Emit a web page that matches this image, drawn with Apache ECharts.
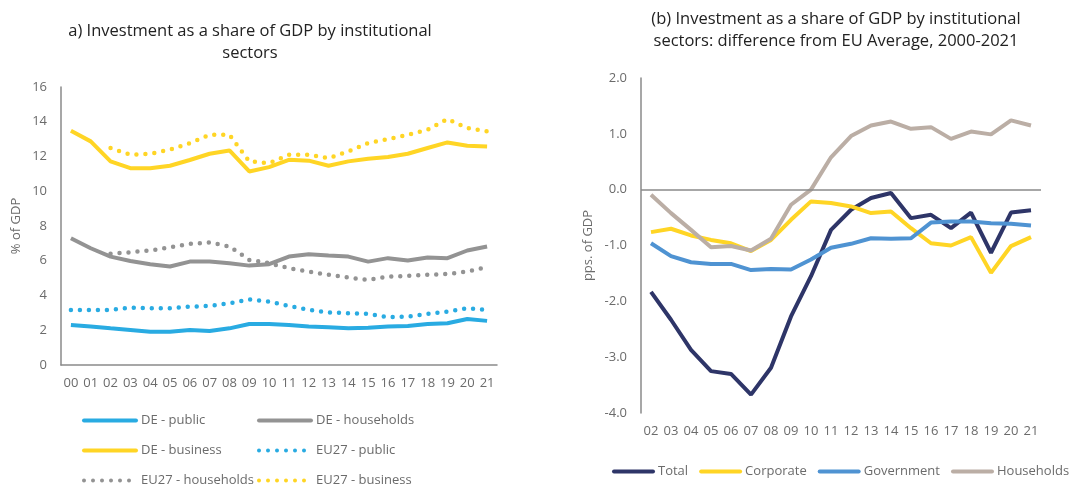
<!DOCTYPE html>
<html>
<head>
<meta charset="utf-8">
<script src="https://cdn.jsdelivr.net/npm/echarts@6/dist/echarts.min.js"></script>
<style>
    html, body { margin: 0; padding: 0; background: #fff; }
    #chart { width: 1070px; height: 488px; }
</style>
</head>
<body>
<div id="chart"></div>
<script>
// left panel: years 2000-2021
const yearsA = ['00','01','02','03','04','05','06','07','08','09','10','11','12','13','14','15','16','17','18','19','20','21'];
const dePublic = [2.3, 2.21, 2.11, 2.02, 1.92, 1.92, 2.02, 1.96, 2.11, 2.36, 2.36, 2.3, 2.21, 2.17, 2.11, 2.15, 2.21, 2.25, 2.36, 2.4, 2.65, 2.54];
const deHouseholds = [7.3, 6.72, 6.24, 5.99, 5.8, 5.67, 5.95, 5.95, 5.86, 5.72, 5.8, 6.24, 6.38, 6.3, 6.24, 5.95, 6.15, 6.01, 6.19, 6.15, 6.59, 6.82];
const deBusiness = [13.48, 12.87, 11.72, 11.33, 11.33, 11.47, 11.8, 12.16, 12.35, 11.14, 11.39, 11.81, 11.76, 11.47, 11.72, 11.87, 11.97, 12.16, 12.49, 12.81, 12.62, 12.58];
const euPublic = [3.17, 3.17, 3.17, 3.3, 3.27, 3.27, 3.36, 3.4, 3.55, 3.78, 3.65, 3.4, 3.17, 3.03, 2.98, 2.94, 2.75, 2.79, 2.94, 3.07, 3.27, 3.17];
const euHouseholds = [null, null, 6.4, 6.49, 6.59, 6.78, 6.97, 7.05, 6.82, 6.05, 5.86, 5.57, 5.38, 5.19, 5.03, 4.9, 5.09, 5.13, 5.19, 5.24, 5.38, 5.63];
const euBusiness = [null, null, 12.49, 12.1, 12.16, 12.39, 12.77, 13.25, 13.25, 11.72, 11.62, 12.1, 12.1, 11.9, 12.29, 12.77, 13.0, 13.25, 13.54, 14.16, 13.64, 13.45];

// right panel: years 2002-2021, difference from EU average
const yearsB = ['02','03','04','05','06','07','08','09','10','11','12','13','14','15','16','17','18','19','20','21'];
const total = [-1.83, -2.33, -2.87, -3.25, -3.3, -3.67, -3.19, -2.27, -1.55, -0.72, -0.36, -0.15, -0.06, -0.51, -0.45, -0.69, -0.41, -1.13, -0.41, -0.37];
const corporate = [-0.76, -0.7, -0.82, -0.9, -0.96, -1.1, -0.9, -0.54, -0.21, -0.24, -0.3, -0.42, -0.39, -0.69, -0.96, -1.0, -0.85, -1.49, -1.01, -0.85];
const government = [-0.96, -1.19, -1.3, -1.33, -1.33, -1.44, -1.42, -1.43, -1.25, -1.04, -0.97, -0.87, -0.88, -0.87, -0.59, -0.57, -0.57, -0.6, -0.61, -0.64];
const households = [-0.09, -0.42, -0.72, -1.03, -1.01, -1.09, -0.88, -0.27, 0.0, 0.58, 0.96, 1.15, 1.22, 1.09, 1.12, 0.91, 1.04, 0.99, 1.24, 1.15];

const font = 'Open Sans';
const grey = '#6b6b6b';
const axisGrey = '#8a8a8a';

let chart = echarts.init(document.getElementById('chart'));

function lineSeries(name, data, color, dotted, x, y) {
    return {
        name: name,
        type: 'line',
        xAxisIndex: x,
        yAxisIndex: y,
        data: data,
        symbol: 'none',
        smooth: false,
        connectNulls: false,
        lineStyle: dotted
            ? { color: color, width: 4.5, type: [0, 9], cap: 'round' }
            : { color: color, width: 4 },
        itemStyle: { color: color }
    };
}

const legendText = { color: grey, fontSize: 13, fontFamily: font };
const legendLine = { width: 4, cap: 'round' };

let option = {
    animation: false,
    textStyle: { fontFamily: font },
    title: [
        {
            text: 'a) Investment as a share of GDP by institutional\nsectors',
            left: 245,
            top: 15,
            textAlign: 'center',
            textStyle: { fontFamily: font, fontSize: 16.5, fontWeight: 'normal', color: '#222', lineHeight: 22 }
        },
        {
            text: '(b) Investment as a share of GDP by institutional\nsectors: difference from EU Average, 2000-2021',
            left: 831,
            top: 3,
            textAlign: 'center',
            textStyle: { fontFamily: font, fontSize: 16.5, fontWeight: 'normal', color: '#222', lineHeight: 22 }
        }
    ],
    legend: [
        {
            orient: 'vertical',
            left: 82,
            top: 414,
            height: 90,
            padding: 0,
            itemWidth: 52,
            itemHeight: 10,
            itemGap: 17,
            itemStyle: { opacity: 0 },
            lineStyle: legendLine,
            textStyle: legendText,
            data: ['DE - public', 'DE - business', 'EU27 - households']
        },
        {
            orient: 'vertical',
            left: 257,
            top: 414,
            height: 90,
            padding: 0,
            itemWidth: 52,
            itemHeight: 10,
            itemGap: 17,
            itemStyle: { opacity: 0 },
            lineStyle: legendLine,
            textStyle: legendText,
            data: ['DE - households', 'EU27 - public', 'EU27 - business']
        },
        {
            orient: 'horizontal',
            left: 612,
            top: 465,
            padding: 0,
            width: 458,
            itemWidth: 39,
            itemHeight: 10,
            itemGap: 11,
            itemStyle: { opacity: 0 },
            lineStyle: legendLine,
            textStyle: legendText,
            data: ['Total', 'Corporate', 'Government', 'Households']
        }
    ],
    grid: [
        { left: 61, top: 87, width: 436, height: 278 },
        { left: 641, top: 78, width: 400, height: 335 }
    ],
    xAxis: [
        {
            type: 'category',
            gridIndex: 0,
            data: yearsA,
            axisLine: { lineStyle: { color: axisGrey, width: 1.5 } },
            axisTick: { show: false },
            axisLabel: { color: grey, fontSize: 13, interval: 0, margin: 12 }
        },
        {
            type: 'category',
            gridIndex: 1,
            data: yearsB,
            axisLine: { show: false, onZero: false },
            axisTick: { show: false },
            axisLabel: { color: grey, fontSize: 13, interval: 0, margin: 12 }
        }
    ],
    yAxis: [
        {
            type: 'value',
            gridIndex: 0,
            min: 0,
            max: 16,
            interval: 2,
            name: '% of GDP',
            nameLocation: 'middle',
            nameGap: 38,
            nameTextStyle: { color: grey, fontSize: 13 },
            axisLine: { show: true, lineStyle: { color: axisGrey, width: 1.5 } },
            axisTick: { show: false },
            splitLine: { show: false },
            axisLabel: { color: grey, fontSize: 13, margin: 14 }
        },
        {
            type: 'value',
            gridIndex: 1,
            min: -4,
            max: 2,
            interval: 1,
            name: 'pps. of GDP',
            nameLocation: 'middle',
            nameGap: 46,
            nameTextStyle: { color: grey, fontSize: 13 },
            axisLine: { show: true, lineStyle: { color: axisGrey, width: 1.5 } },
            axisTick: { show: false },
            splitLine: { show: false },
            axisLabel: { color: grey, fontSize: 13, margin: 14, formatter: (v) => v.toFixed(1) }
        }
    ],
    series: [
        lineSeries('DE - public', dePublic, '#29abe2', false, 0, 0),
        lineSeries('DE - households', deHouseholds, '#939393', false, 0, 0),
        lineSeries('DE - business', deBusiness, '#ffd525', false, 0, 0),
        lineSeries('EU27 - public', euPublic, '#29abe2', true, 0, 0),
        lineSeries('EU27 - households', euHouseholds, '#939393', true, 0, 0),
        lineSeries('EU27 - business', euBusiness, '#ffd525', true, 0, 0),
        Object.assign(lineSeries('Total', total, '#2e3568', false, 1, 1), {
            markLine: {
                silent: true,
                symbol: 'none',
                label: { show: false },
                lineStyle: { color: axisGrey, width: 1.5, type: 'solid' },
                data: [{ yAxis: 0 }]
            }
        }),
        lineSeries('Corporate', corporate, '#ffd525', false, 1, 1),
        lineSeries('Government', government, '#4f93d2', false, 1, 1),
        lineSeries('Households', households, '#bbaea5', false, 1, 1)
    ]
};

chart.setOption(option);
window.addEventListener("resize", () => {
    chart.resize();
});
</script>
</body>
</html>
